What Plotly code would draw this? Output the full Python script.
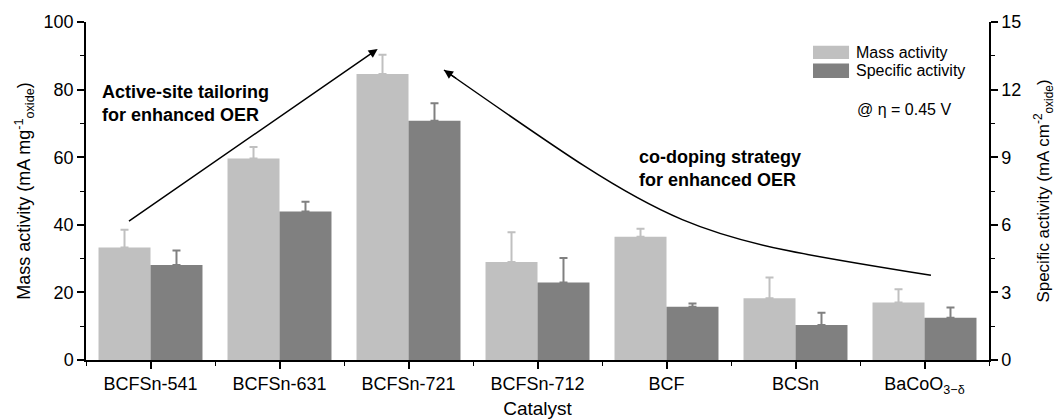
import plotly.graph_objects as go

catalysts = ["BCFSn-541", "BCFSn-631", "BCFSn-721", "BCFSn-712", "BCF", "BCSn", "BaCoO<sub>3−δ</sub>"]
mass_activity = [33.3, 59.6, 84.6, 29.0, 36.5, 18.3, 17.0]          # mA mg^-1
mass_err = [5.2, 3.4, 5.7, 8.8, 2.3, 6.1, 3.9]
specific_activity = [4.22, 6.59, 10.62, 3.44, 2.36, 1.55, 1.88]     # mA cm^-2
specific_err = [0.64, 0.43, 0.77, 1.09, 0.15, 0.55, 0.45]

x_pos = list(range(len(catalysts)))
LIGHT = "#c0c0c0"
DARK = "#808080"
FONT = "Liberation Sans, Arial, sans-serif"
BW = 0.403

fig = go.Figure()
fig.add_trace(go.Bar(
    x=x_pos, y=mass_activity, name="Mass activity", width=BW, offset=-BW,
    marker=dict(color=LIGHT, line=dict(width=0)),
    error_y=dict(type="data", array=mass_err, symmetric=False, arrayminus=[0]*7,
                 color=LIGHT, thickness=2, width=4),
    yaxis="y", showlegend=False))
fig.add_trace(go.Bar(
    x=x_pos, y=specific_activity, name="Specific activity", width=BW, offset=0,
    marker=dict(color=DARK, line=dict(width=0)),
    error_y=dict(type="data", array=specific_err, symmetric=False, arrayminus=[0]*7,
                 color=DARK, thickness=2, width=4),
    yaxis="y2", showlegend=False))

fig.update_layout(
    width=1056, height=420,
    margin=dict(l=86, r=67, t=22, b=60),
    paper_bgcolor="white", plot_bgcolor="white",
    font=dict(family=FONT, size=18, color="black"),
    barmode="overlay",
    xaxis=dict(range=[-0.5, 6.5], tickmode="array", tickvals=x_pos, ticktext=catalysts,
               showline=True, linecolor="black", linewidth=1.5, ticks="outside",
               ticklen=7, tickwidth=1.5, tickcolor="black", showgrid=False, zeroline=False,
               automargin=False,
               minor=dict(tickmode="array", tickvals=[i - 0.5 for i in range(8)],
                          ticks="outside", ticklen=4, tickwidth=1.2, tickcolor="black"),
               title=dict(text="Catalyst", font=dict(size=19), standoff=6)),
    yaxis=dict(range=[0, 100], dtick=20, showline=True, linecolor="black", linewidth=1.5,
               ticks="outside", ticklen=7, tickwidth=1.5, tickcolor="black",
               showgrid=False, zeroline=False, automargin=False,
               minor=dict(dtick=10, ticks="outside", ticklen=4, tickwidth=1.2, tickcolor="black"),
               title=dict(text="Mass activity (mA mg<sup>-1</sup><sub>oxide</sub>)",
                          font=dict(size=18), standoff=8)),
    yaxis2=dict(range=[0, 15], dtick=3, overlaying="y", side="right", showline=True,
                linecolor="black", linewidth=1.5, ticks="outside", ticklen=7, tickwidth=1.5,
                tickcolor="black", showgrid=False, zeroline=False, automargin=False,
                minor=dict(dtick=1.5, ticks="outside", ticklen=4, tickwidth=1.2, tickcolor="black"),
                title=dict(text="Specific activity (mA cm<sup>-2</sup><sub>oxide</sub>)",
                           font=dict(size=17), standoff=18)),
)

# custom legend
legend_items = [("Mass activity", LIGHT, 0.930, 0.8905), ("Specific activity", DARK, 0.877, 0.834)]
for label, col, ytop, ybot in legend_items:
    fig.add_shape(type="rect", xref="paper", yref="paper", x0=0.8051, x1=0.845,
                  y0=ybot, y1=ytop, fillcolor=col, line=dict(width=0))
    fig.add_annotation(xref="paper", yref="paper", x=0.8505, y=(ytop + ybot) / 2,
                       text=label, showarrow=False, xanchor="left", yanchor="middle",
                       font=dict(size=16))
fig.add_annotation(x=5.46, y=74.0, text="@ η = 0.45 V", showarrow=False,
                   xanchor="left", yanchor="middle", font=dict(size=16))

# texts
fig.add_annotation(x=-0.39, y=75.9, text="<b>Active-site tailoring<br>for enhanced OER</b>",
                   showarrow=False, xanchor="left", yanchor="middle", align="left",
                   font=dict(size=18))
fig.add_annotation(x=3.77, y=56.6, text="<b>co-doping strategy<br>for enhanced OER</b>",
                   showarrow=False, xanchor="left", yanchor="middle", align="left",
                   font=dict(size=18))

# straight arrow
fig.add_annotation(x=1.761, y=92.0, ax=-0.198, ay=40.3, axref="x", ayref="y",
                   xref="x", yref="y", text=" ", showarrow=True, arrowhead=2,
                   arrowsize=1.2, arrowwidth=1.5, arrowcolor="black", standoff=0)
# curved arrow
fig.add_shape(type="path", xref="x", yref="y",
              path="M 6.05,25.05 C 4.109,36.9 4.109,36.9 2.275,85.8",
              line=dict(color="black", width=1.5))
fig.add_annotation(x=2.275, y=85.8, ax=16, ay=11, xref="x", yref="y", text=" ",
                   showarrow=True, arrowhead=2, arrowsize=1.2, arrowwidth=1.5,
                   arrowcolor="black", standoff=0)

fig.write_html("out.html", config={"displayModeBar": False},
               post_script="document.body.style.margin='0';document.body.style.padding='0';")
